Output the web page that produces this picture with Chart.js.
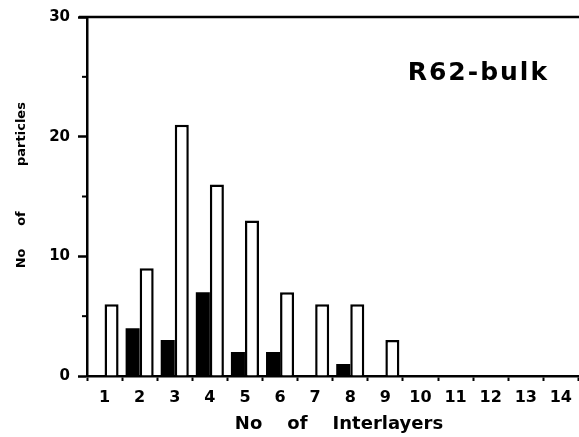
<!DOCTYPE html>
<html>
<head>
<meta charset="utf-8">
<script src="https://cdn.jsdelivr.net/npm/chart.js@4"></script>
<style>
  body { margin: 0; background: #fff; }
  canvas { display: block; }
</style>
</head>
<body>
<canvas id="myCanvas" width="579" height="437"></canvas>
<script>
// categories and values
const interlayers = ['1', '2', '3', '4', '5', '6', '7', '8', '9', '10', '11', '12', '13', '14'];
const blackCounts = [0, 4, 3, 7, 2, 2, 0, 1, 0, 0, 0, 0, 0, 0];
const whiteCounts = [6, 9, 21, 16, 13, 7, 6, 6, 3, 0, 0, 0, 0, 0];
const yTicks = [0, 10, 20, 30];
const yMinorTicks = [5, 15, 25];

const fontFam = '"DejaVu Sans", Verdana, sans-serif';

// top frame line, minor y ticks, sample label
const extras = {
   id: 'extras',
   afterDraw(chart) {
      const ctx = chart.ctx;
      const y = chart.scales.y;
      const left = chart.chartArea.left;
      const top = y.getPixelForValue(30);
      ctx.save();
      ctx.strokeStyle = '#000';
      ctx.lineWidth = 2.5;
      ctx.beginPath();
      ctx.moveTo(left - 8, top);
      ctx.lineTo(chart.width, top);
      ctx.stroke();

      ctx.lineWidth = 2;
      yMinorTicks.forEach(v => {
         const py = y.getPixelForValue(v);
         ctx.beginPath();
         ctx.moveTo(left - 5, py);
         ctx.lineTo(left, py);
         ctx.stroke();
      });

      ctx.fillStyle = '#000';
      ctx.font = 'bold 25px ' + fontFam;
      ctx.textAlign = 'center';
      ctx.textBaseline = 'middle';
      ctx.letterSpacing = '2px';
      ctx.fillText('R62-bulk', chart.scales.x.getPixelForValue(10.65), y.getPixelForValue(25.3));
      ctx.restore();
   }
};

let ctx = document.getElementById('myCanvas').getContext('2d');

new Chart(ctx, {
   type: 'bar',
   data: {
      labels: interlayers,
      datasets: [
         {
            label: 'black',
            data: blackCounts,
            backgroundColor: '#000',
            borderColor: '#000',
            borderWidth: 0
         },
         {
            label: 'white',
            data: whiteCounts,
            backgroundColor: '#fff',
            borderColor: '#000',
            borderWidth: 2.5
         }
      ]
   },
   options: {
      responsive: false,
      animation: false,
      layout: { padding: { top: 15, right: 0, left: 0, bottom: 0 } },
      plugins: { legend: { display: false }, tooltip: { enabled: false } },
      datasets: { bar: { categoryPercentage: 0.8, barPercentage: 1.0 } },
      scales: {
         x: {
            grid: { drawOnChartArea: false, tickLength: 5, tickWidth: 2, tickColor: '#000' },
            border: { color: '#000', width: 2.5 },
            ticks: { color: '#000', font: { family: fontFam, size: 16, weight: 'bold' }, padding: 7, maxRotation: 0 },
            title: {
               display: true,
               text: '  No    of    Interlayers',
               color: '#000',
               font: { family: fontFam, size: 18, weight: 'bold' },
               padding: { top: 0, bottom: 2 }
            },
            afterFit(scale) { scale.height = 61; }
         },
         y: {
            min: 0,
            max: 30,
            grid: {
               drawOnChartArea: false,
               tickLength: 9,
               tickColor: '#000',
               tickWidth: 2.5
            },
            border: { color: '#000', width: 2.5 },
            ticks: {
               stepSize: 10,
               color: '#000',
               padding: 8,
               font: { family: fontFam, size: 15, weight: 'bold' }
            },
            title: {
               display: true,
               text: '     No     of          particles',
               color: '#000',
               font: { family: fontFam, size: 13, weight: 'bold' },
               padding: { top: 14, bottom: 0 }
            },
            afterFit(scale) { scale.width = 87; }
         }
      }
   },
   plugins: [extras]
});
</script>
</body>
</html>
